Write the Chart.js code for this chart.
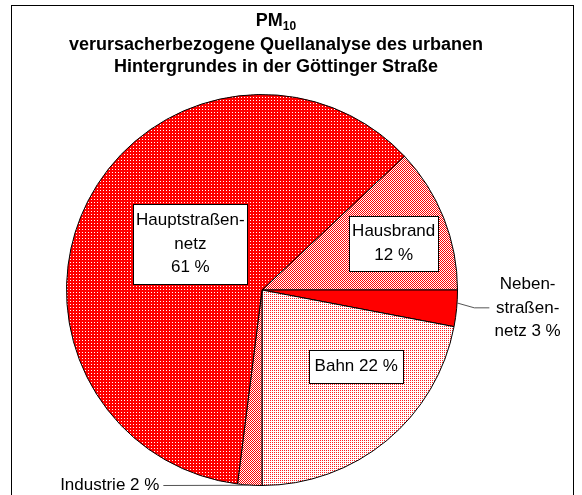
<!DOCTYPE html>
<html>
<head>
<meta charset="utf-8">
<script src="https://cdn.jsdelivr.net/npm/chart.js@4.4.1/dist/chart.umd.min.js"></script>
<style>
  html, body { margin: 0; padding: 0; background: #fff; }
  #wrap { width: 582px; height: 495px; }
</style>
</head>
<body>
<div id="wrap"><canvas id="pmChart" width="582" height="495"></canvas></div>
<script>
// slices clockwise, starting at Hausbrand
const categories = ['Hausbrand', 'Nebenstraßennetz', 'Bahn', 'Industrie', 'Hauptstraßennetz'];
const shares = [12, 3, 22, 2, 61];
const labelTexts = [
    ['Hausbrand', '12 %'],
    ['Neben-', 'straßen-', 'netz 3 %'],
    ['Bahn 22 %'],
    ['Industrie 2 %'],
    ['Hauptstraßen-', 'netz', '61 %']
];
const titleLines = ['verursacherbezogene Quellanalyse des urbanen', 'Hintergrundes in der Göttinger Straße'];

const FONT = '"Liberation Sans", Arial, sans-serif';

function makePattern(size, bg, fg, dots) {
    const c = document.createElement('canvas');
    c.width = size; c.height = size;
    const g = c.getContext('2d');
    g.fillStyle = bg;
    g.fillRect(0, 0, size, size);
    g.fillStyle = fg;
    dots.forEach(d => g.fillRect(d[0], d[1], 1, 1));
    return g.createPattern(c, 'repeat');
}

const ctx0 = document.getElementById('pmChart').getContext('2d');
const fills = [
    makePattern(2, '#ff0000', '#ffffff', [[1, 0], [0, 1]]),            // Hausbrand
    '#ff0000',                                                         // Nebenstraßennetz
    makePattern(2, '#ffffff', '#ff2020', [[0, 0]]),                    // Bahn
    makePattern(2, '#ff0000', '#ffffff', [[1, 0], [0, 1]]),            // Industrie
    makePattern(3, '#ff0000', '#ffffff', [[1, 1]])                     // Hauptstraßennetz
];

// label placement: polar (deg clockwise from top, fraction of radius)
const labelLayout = [
    { a: 70.4, r: 0.715, w: 89, h: 55, box: true },
    { a: 93.9, r: 1.362, box: false, leader: [[93.8, 1.0], [94.8, 1.09]], leadDx: 15 },
    { a: 129, r: 0.62, w: 94, h: 33, box: true },
    { a: 218, r: 1.265, box: false, leader: [[183.0, 1.0]], flat: true },
    { a: 302.6, r: 0.435, w: 114, h: 80, box: true }
];

const decor = {
    id: 'decor',
    beforeDraw(chart) {
        const c = chart.ctx;
        c.save();
        c.fillStyle = '#fff';
        c.fillRect(0, 0, chart.width, chart.height);
        c.strokeStyle = '#000';
        c.lineWidth = 1;
        c.strokeRect(11.5, 5.5, 562, 600);
        // title
        c.fillStyle = '#000';
        c.textBaseline = 'alphabetic';
        const cx = 276;
        c.font = 'bold 18px ' + FONT;
        const pmW = c.measureText('PM').width;
        c.font = 'bold 12px ' + FONT;
        const subW = c.measureText('10').width;
        const x0 = cx - (pmW + subW) / 2;
        c.font = 'bold 18px ' + FONT;
        c.textAlign = 'left';
        c.fillText('PM', x0, 26);
        c.font = 'bold 12px ' + FONT;
        c.fillText('10', x0 + pmW, 30);
        c.font = 'bold 18px ' + FONT;
        c.textAlign = 'center';
        titleLines.forEach((t, i) => c.fillText(t, cx, 50 + i * 22));
        c.restore();
    },
    afterDatasetsDraw(chart) {
        const c = chart.ctx;
        const arc = chart.getDatasetMeta(0).data[0];
        const px = arc.x, py = arc.y, R = arc.outerRadius;
        const pt = (a, r) => {
            const t = a * Math.PI / 180;
            return { x: px + r * R * Math.sin(t), y: py - r * R * Math.cos(t) };
        };
        c.save();
        c.font = '17px ' + FONT;
        c.textBaseline = 'middle';
        const lh = 23.5;
        labelLayout.forEach((L, i) => {
            const lines = labelTexts[i];
            const p = pt(L.a, L.r);
            if (L.box) {
                c.fillStyle = '#fff';
                c.fillRect(Math.round(p.x - L.w / 2), Math.round(p.y - L.h / 2), L.w, L.h);
                c.strokeStyle = '#000';
                c.lineWidth = 1;
                c.strokeRect(Math.round(p.x - L.w / 2) + 0.5, Math.round(p.y - L.h / 2) + 0.5, L.w, L.h);
            }
            c.fillStyle = '#000';
            c.textAlign = 'center';
            const top = p.y - (lines.length - 1) * lh / 2;
            lines.forEach((t, k) => c.fillText(t, p.x, top + k * lh));
            if (L.leader) {
                c.strokeStyle = '#555';
                c.lineWidth = 1;
                c.beginPath();
                const pts = L.leader.map(q => pt(q[0], q[1]));
                c.moveTo(pts[0].x, pts[0].y);
                pts.slice(1).forEach(q => c.lineTo(q.x, q.y));
                const last = pts[pts.length - 1];
                if (L.flat) {
                    const w = c.measureText(lines[0]).width;
                    c.lineTo(p.x + w / 2 + 4, Math.round(last.y) + 0.5);
                } else {
                    c.lineTo(last.x + L.leadDx, last.y);
                }
                c.stroke();
            }
        });
        c.restore();
    }
};

new Chart(ctx0, {
    type: 'pie',
    data: {
        labels: categories,
        datasets: [{
            data: shares,
            backgroundColor: fills,
            borderColor: '#000',
            borderWidth: 1,
            borderAlign: 'center'
        }]
    },
    options: {
        responsive: false,
        animation: false,
        rotation: 46.8,
        layout: { padding: { left: 66, right: 124, top: 94, bottom: 9 } },
        plugins: {
            legend: { display: false },
            tooltip: { enabled: false },
            title: { display: false }
        }
    },
    plugins: [decor]
});
</script>
</body>
</html>
